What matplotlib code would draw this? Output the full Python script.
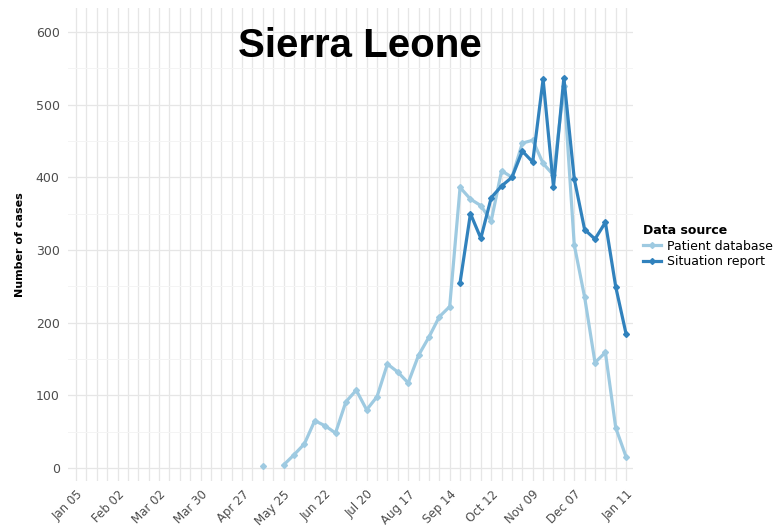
import numpy as np
import matplotlib.pyplot as plt

# week index 0 = Jan 05 2014, 53 = Jan 11 2015
tick_weeks = [0, 4, 8, 12, 16, 20, 24, 28, 32, 36, 40, 44, 48, 53]
tick_labels = ["Jan 05", "Feb 02", "Mar 02", "Mar 30", "Apr 27", "May 25", "Jun 22",
               "Jul 20", "Aug 17", "Sep 14", "Oct 12", "Nov 09", "Dec 07", "Jan 11"]

db_weeks = np.arange(18, 54)
db_cases = [3, np.nan, 4, 18, 33, 65, 58, 48, 91, 107, 80, 98, 143, 132, 117, 155,
            180, 208, 222, 386, 370, 361, 340, 409, 400, 447, 451, 419, 403, 525,
            307, 235, 145, 159, 55, 15]

sit_weeks = np.arange(37, 54)
sit_cases = [255, 350, 316, 372, 388, 400, 436, 421, 535, 387, 537, 398, 328, 315,
             338, 249, 184]

LIGHT = "#9ecae1"
DARK = "#3182bd"

fig = plt.figure(figsize=(7.84, 5.28), dpi=100)
ax = fig.add_axes([68/784, 1 - 481/528, (633 - 68)/784, (481 - 8)/528])

ax.plot(db_weeks, db_cases, color=LIGHT, lw=2.3, marker="D", ms=3,
        label="Patient database", zorder=3)
ax.plot(sit_weeks, sit_cases, color=DARK, lw=2.3, marker="D", ms=3,
        label="Situation report", zorder=4)

ax.set_xlim(-0.77, 53.66)
ax.set_ylim(-18, 633)

# weekly vertical grid, horizontal major/minor grid
for w in range(0, 54):
    ax.axvline(w, color="#e6e6e6", lw=0.9, zorder=1)
for y in range(0, 601, 100):
    ax.axhline(y, color="#e6e6e6", lw=0.9, zorder=1)
for y in range(50, 651, 100):
    ax.axhline(y, color="#f4f4f4", lw=0.7, zorder=1)

ax.set_xticks(tick_weeks)
ax.set_xticklabels(tick_labels, rotation=45, ha="right", va="top",
                   rotation_mode="anchor", fontsize=8.5, color="#4d4d4d")
ax.set_yticks(range(0, 601, 100))
ax.tick_params(axis="y", labelsize=9, labelcolor="#4d4d4d", length=0, pad=6)
ax.tick_params(axis="x", length=0, pad=5)
for s in ax.spines.values():
    s.set_visible(False)

ax.set_ylabel("Number of cases", fontsize=8, fontweight="bold", labelpad=8)

fig.text(360/784, 1 - 57/528, "Sierra Leone", family="Liberation Sans",
         fontweight="bold", fontsize=29, ha="center", va="baseline")

leg = fig.legend(loc="upper left", bbox_to_anchor=(643/784, 1 - 224/528),
                 title="Data source", frameon=False, fontsize=9,
                 handlelength=1.4, handletextpad=0.5, labelspacing=0.2,
                 borderaxespad=0, borderpad=0)
leg.get_title().set_fontweight("bold")
leg.get_title().set_fontsize(9)
leg._legend_box.align = "left"

fig.savefig("out.png", dpi=100)
